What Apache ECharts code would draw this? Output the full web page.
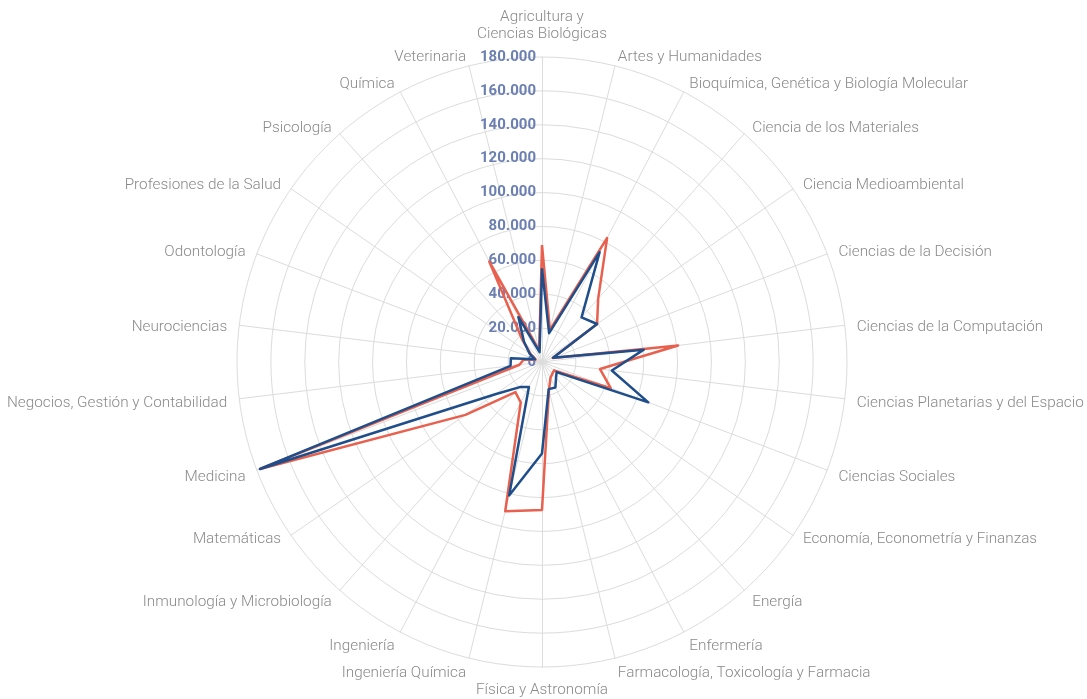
<!DOCTYPE html>
<html>
<head>
<meta charset="utf-8">
<script src="https://cdn.jsdelivr.net/npm/echarts@6/dist/echarts.min.js"></script>
<style>
html,body{margin:0;padding:0;background:#fff;}
#chart{width:1087px;height:699px;}
</style>
</head>
<body>
<div id="chart"></div>
<script>
// Categories in clockwise order starting at the top
const categorias = [
  'Agricultura y\nCiencias Biológicas',
  'Artes y Humanidades',
  'Bioquímica, Genética y Biología Molecular',
  'Ciencia de los Materiales',
  'Ciencia Medioambiental',
  'Ciencias de la Decisión',
  'Ciencias de la Computación',
  'Ciencias Planetarias y del Espacio',
  'Ciencias Sociales',
  'Economía, Econometría y Finanzas',
  'Energía',
  'Enfermería',
  'Farmacología, Toxicología y Farmacia',
  'Física y Astronomía',
  'Ingeniería Química',
  'Ingeniería',
  'Inmunología y Microbiología',
  'Matemáticas',
  'Medicina',
  'Negocios, Gestión y Contabilidad',
  'Neurociencias',
  'Odontología',
  'Profesiones de la Salud',
  'Psicología',
  'Química',
  'Veterinaria'
];
const serieRoja = [
  69000, 19500, 82700, 50000, 39500, 6700, 80900, 34500, 43400, 8700,
  9200, 10700, 17200, 87300, 90700, 27000, 23700, 54900, 178000, 13400,
  11000, 4000, 8000, 17500, 67000, 7000
];
const serieAzul = [
  55300, 17500, 73200, 35200, 39500, 7000, 60500, 41500, 67100, 10500,
  12500, 17000, 16500, 54000, 81100, 16600, 19800, 33500, 178000, 18700,
  18500, 4500, 9000, 16000, 30000, 6000
];
const ejeMin = 0;
const ejeMax = 180000;
const ejeDivisiones = 9;

// ECharts lays radar indicators counter-clockwise: reorder so the picture runs clockwise
function ordenar(arr){ return [arr[0]].concat(arr.slice(1).reverse()); }
function fmt(v){ return String(v).replace(/\B(?=(\d{3})+(?!\d))/g, '.'); }

const n = categorias.length;

const indicadores = ordenar(categorias.map((c, k) => ({c, k}))).map((item, i) => {
  const k = item.k;                         // clockwise index
  const o = {name: item.c, min: ejeMin, max: ejeMax};
  if (k === 0) {
    o.nameGap = 14;
    o.nameTextStyle = {verticalAlign: 'bottom', lineHeight: 17};
  } else if (k * 2 === n) {
    o.nameGap = 20;
  } else if (k === 9 || k === 17) {
    o.nameTextStyle = {verticalAlign: 'bottom'};
  }
  if (i === 0) {
    o.axisLabel = {
      show: true, color: '#6b7fb2', fontSize: 15, fontWeight: 'bold',
      fontFamily: 'Roboto', formatter: fmt, margin: 6
    };
  }
  return o;
});

const chart = echarts.init(document.getElementById('chart'));
chart.setOption({
  animation: false,
  backgroundColor: '#ffffff',
  radar: {
    center: [542, 362],
    radius: 305,
    startAngle: 90,
    shape: 'circle',
    splitNumber: ejeDivisiones,
    nameGap: 12,
    indicator: indicadores,
    axisName: {
      color: '#8a8a8a', fontSize: 15.3, fontFamily: 'Roboto', fontWeight: 300,
      verticalAlign: 'top', lineHeight: 6
    },
    splitLine: {lineStyle: {color: '#dcdcdc', width: 1}},
    splitArea: {show: false},
    axisLine: {lineStyle: {color: '#dcdcdc', width: 1}},
    axisTick: {show: false},
    axisLabel: {show: false}
  },
  series: [{
    type: 'radar',
    symbol: 'none',
    data: [
      {value: ordenar(serieRoja), name: 'Serie roja',
       lineStyle: {color: '#e8604e', width: 2.5}, itemStyle: {color: '#e8604e'}},
      {value: ordenar(serieAzul), name: 'Serie azul',
       lineStyle: {color: '#1f4e8a', width: 2.5}, itemStyle: {color: '#1f4e8a'}}
    ]
  }]
});
</script>
</body>
</html>
